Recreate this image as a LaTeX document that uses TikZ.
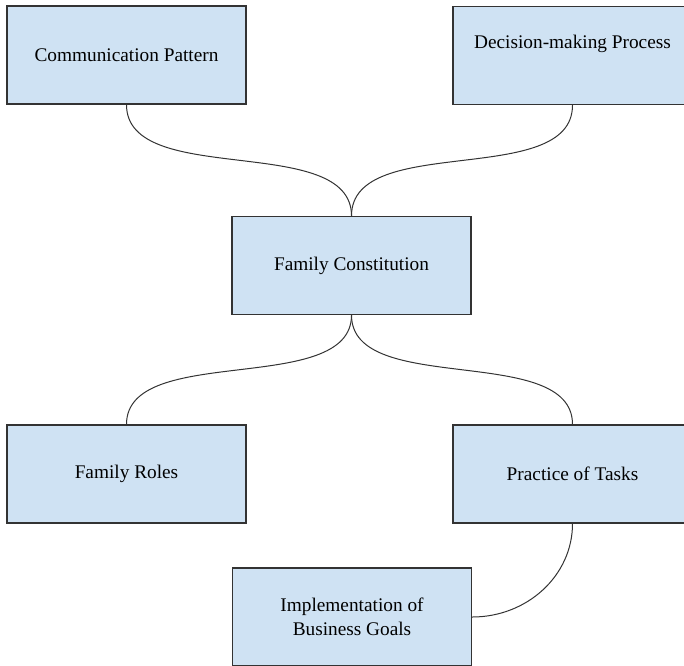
\documentclass[tikz,border=0pt]{standalone}
\usepackage{fontspec}
\setmainfont{Liberation Serif}
\usetikzlibrary{calc}
\definecolor{boxfill}{HTML}{CFE2F3}
\definecolor{boxline}{HTML}{333333}
\tikzset{
  topicbox/.style={draw=boxline, fill=boxfill, line width=1.3pt,
    minimum width=239pt, minimum height=98pt, inner sep=0pt,
    align=center, font=\fontsize{19.3}{24}\selectfont},
  link/.style={draw=boxline, line width=1pt}
}
\begin{document}
\begin{tikzpicture}[x=1pt,y=-1pt]
\useasboundingbox (0,0) rectangle (684,665);
\clip (0,0) rectangle (684,665);
\node[topicbox] (comm) at (126.5,55) {Communication Pattern};
\node[topicbox] (dec) at (572.5,55.5) {\raisebox{12pt}[\height][\depth]{Decision-making Process}};
\node[topicbox] (fc) at (351.5,265.5) {Family Constitution};
\node[topicbox] (fr) at (126.5,474) {Family Roles};
\node[topicbox] (pt) at (572.5,474) {Practice of Tasks};
\node[topicbox] (impl) at (352,617) {Implementation of\\Business Goals};
\draw[link] (comm.south) .. controls ($(comm.south)+(0,84)$) and ($(fc.north)+(0,-84)$) .. (fc.north);
\draw[link] (dec.south) .. controls ($(dec.south)+(0,84)$) and ($(fc.north)+(0,-84)$) .. (fc.north);
\draw[link] (fc.south) .. controls ($(fc.south)+(0,82)$) and ($(fr.north)+(0,-82)$) .. (fr.north);
\draw[link] (fc.south) .. controls ($(fc.south)+(0,82)$) and ($(pt.north)+(0,-82)$) .. (pt.north);
\draw[link] (pt.south) .. controls ($(pt.south)+(0,52)$) and ($(impl.east)+(55,0)$) .. (impl.east);
\end{tikzpicture}
\end{document}
